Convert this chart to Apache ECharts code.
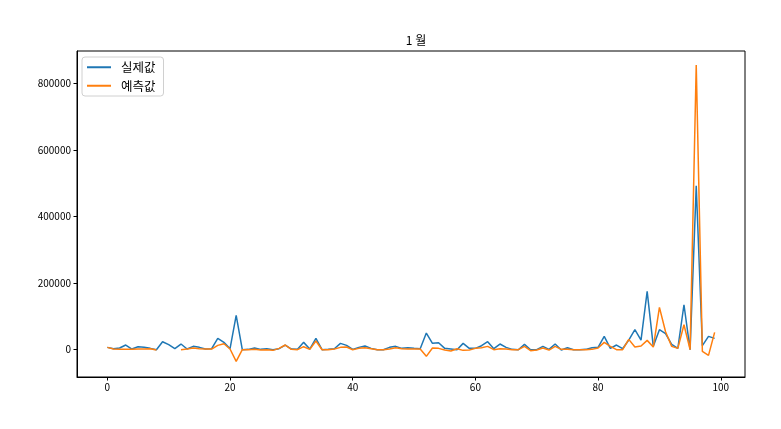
<!DOCTYPE html>
<html>
<head>
<meta charset="utf-8">
<script src="https://cdn.jsdelivr.net/npm/echarts@6/dist/echarts.min.js"></script>
<style>html,body{margin:0;padding:0;background:#fff;}#c{width:781px;height:429px;}</style>
</head>
<body>
<div id="c"></div>
<script>
const title = '1 월';
const seriesNames = ['실제값', '예측값'];
const actual = [7000,3000,5000,14000,2000,9000,7000,4000,0,24000,
  15000,3000,17000,2000,10000,7000,2000,3000,34000,22000,
  3000,103000,0,1000,5000,1000,3000,0,3000,14000,
  2000,1000,22000,2000,34000,0,1000,3000,19000,13000,
  1000,7000,11000,4000,0,0,7000,10000,4000,6000,
  4000,3000,50000,19000,21000,4000,2000,0,19000,4000,
  4000,12000,24000,3000,17000,7000,1000,0,16000,0,
  0,10000,1000,17000,-1000,6000,0,0,1000,6000,
  7000,40000,4000,14000,3000,29000,60000,29000,175000,10000,
  60000,48000,16000,4000,135000,0,492000,12000,40000,34000];
const predicted = [7000,2000,1000,1000,1000,2000,2000,3000,-1000,null,
  null,null,0,2000,5000,3000,2000,2000,13000,18000,
  2000,-35000,0,0,1000,-1000,0,-2000,4000,14000,
  1000,0,9000,1000,26000,0,0,2000,7000,8000,
  0,4000,6000,3000,0,0,2000,6000,3000,2000,
  2000,2000,-20000,5000,4000,-1000,-4000,3000,-2000,-1000,
  4000,6000,10000,0,3000,2000,0,0,10000,-3000,
  -1000,5000,-1000,10000,1000,1000,0,0,0,1000,
  5000,22000,10000,0,0,31000,8000,11000,28000,8000,
  127000,54000,10000,4000,75000,0,855000,-5000,-17000,52000];
const xTicks = [0,20,40,60,80,100];
const yTicks = [0,200000,400000,600000,800000];

const font = '"Noto Sans CJK KR", "DejaVu Sans", sans-serif';
const chart = echarts.init(document.getElementById('c'), null, {renderer:'canvas'});
const toPairs = arr => arr.map((v,i)=>[i, v === null ? '-' : v]);
chart.setOption({
  animation: false,
  backgroundColor: '#fff',
  title: {text: title, left: 411, top: 29, textAlign: 'center',
    textStyle: {fontSize: 12, fontWeight: 'normal', color: '#000', fontFamily: font}},
  legend: {
    orient: 'vertical', left: 82, top: 57,
    data: seriesNames,
    itemWidth: 24, itemHeight: 2, itemGap: 6,
    icon: 'rect',
    padding: [4, 8, 4, 5],
    borderColor: '#d0d0d0', borderWidth: 1, borderRadius: 3,
    backgroundColor: 'rgba(255,255,255,0.8)',
    textStyle: {fontSize: 12.5, color: '#000', fontFamily: font, padding: [0,0,0,5]}
  },
  grid: {left: 77, right: 36, top: 51, bottom: 52, show: true, borderColor: '#000', borderWidth: 1, backgroundColor: 'transparent'},
  xAxis: {
    type: 'value', min: -4.95, max: 103.95,
    splitLine: {show: false},
    axisLine: {show: true, onZero: false, lineStyle: {color: '#000', width: 1}},
    axisTick: {show: true, length: 3.5, customValues: xTicks, lineStyle: {color: '#000'}},
    axisLabel: {customValues: xTicks, color: '#000', fontSize: 10, fontFamily: font, margin: 5}
  },
  yAxis: {
    type: 'value', min: -82000, max: 897000,
    splitLine: {show: false},
    axisLine: {show: true, onZero: false, lineStyle: {color: '#000', width: 1}},
    axisTick: {show: true, length: 3.5, customValues: yTicks, lineStyle: {color: '#000'}},
    axisLabel: {customValues: yTicks, color: '#000', fontSize: 10, fontFamily: font, margin: 6,
      formatter: v => String(v)}
  },
  series: [
    {name: seriesNames[0], type: 'line', data: toPairs(actual), showSymbol: false,
      lineStyle: {color: '#1f77b4', width: 1.5}, itemStyle: {color: '#1f77b4'}, z: 2},
    {name: seriesNames[1], type: 'line', data: toPairs(predicted), showSymbol: false, connectNulls: false,
      lineStyle: {color: '#ff7f0e', width: 1.5}, itemStyle: {color: '#ff7f0e'}, z: 3}
  ]
});
</script>
</body>
</html>
